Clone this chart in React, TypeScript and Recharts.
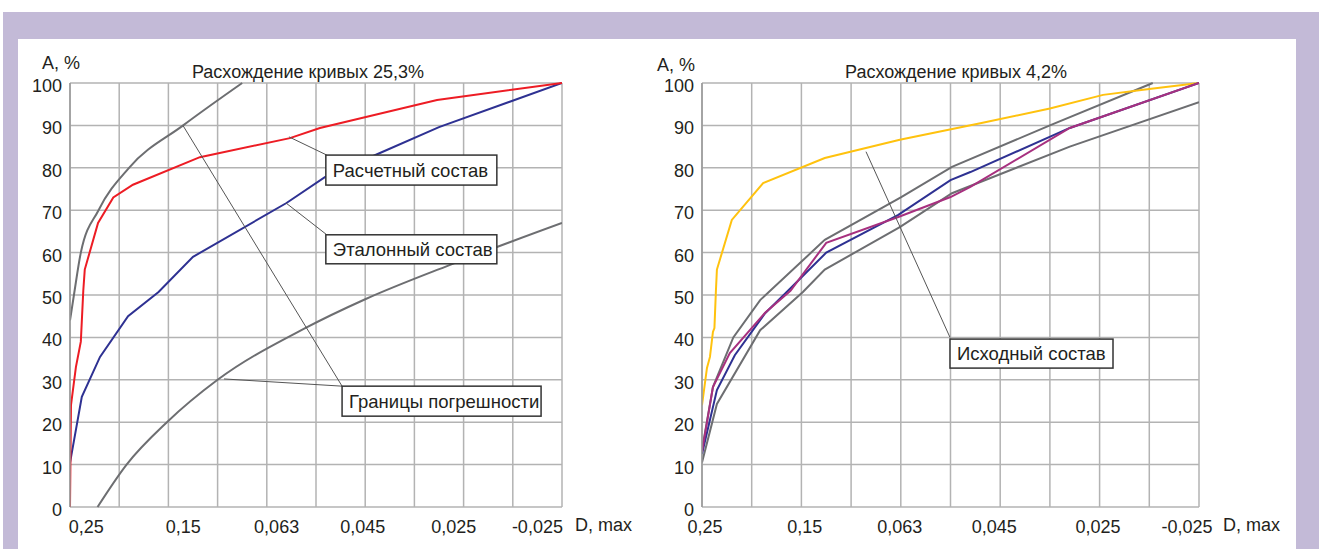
import React from "react";
import {
  LineChart,
  Line,
  XAxis,
  YAxis,
  CartesianGrid,
  ReferenceLine,
  ReferenceDot,
  Label,
} from "recharts";

// x values are positions on the D grid (0 = 0,25 edge, 10 = right edge)
const yTicks = [0, 10, 20, 30, 40, 50, 60, 70, 80, 90, 100];
const gridTicks = [0, 1, 2, 3, 4, 5, 6, 7, 8, 9, 10];
const dLabels = ["0,25", "0,15", "0,063", "0,045", "0,025", "-0,025"];
const leftLabelPos = [0.33, 2.3, 4.2, 5.95, 7.8, 9.5];
const rightLabelPos = [0.06, 2.07, 3.98, 5.88, 7.97, 9.76];

// left chart: Расхождение кривых 25,3%
const calcX = [0, 0.02, 0.12, 0.22, 0.27, 0.3, 0.57, 0.88, 1.28, 2.64, 4.47, 5.08, 7.46, 10];
const calcY = [0, 24, 33, 39, 51, 56, 67, 73, 76, 82.5, 87, 89.4, 96, 100];
const refX = [0, 0.24, 0.61, 1.18, 1.8, 2.5, 4.4, 5.18, 6.3, 7.5, 10];
const refY = [10.4, 26, 35.4, 45, 50.7, 59, 71.7, 77.8, 83.5, 89.6, 100];
const upperX = [0, 0.08, 0.22, 0.58, 1.2, 2.3, 3.5];
const upperY = [44, 50, 60, 70, 80, 90, 100];
const lowerX = [0.56, 1.15, 1.97, 3.0, 4.75, 6.0, 7.7, 10];
const lowerY = [0, 10, 20, 30, 42, 49, 57, 67];

// right chart: Расхождение кривых 4,2%
const srcX = [0, 0.1, 0.16, 0.22, 0.25, 0.28, 0.3, 0.6, 1.23, 2.47, 3.98, 5.6, 7.0, 8.07, 9.0, 10];
const srcY = [24, 32.8, 35.4, 41.3, 42.2, 51, 56, 67.7, 76.4, 82.3, 86.6, 90.5, 94, 97.2, 98.6, 100];
const blueX = [0, 0.3, 0.66, 1.27, 1.73, 2.5, 3.95, 5.0, 5.4, 7.4, 10];
const blueY = [12.5, 27.6, 35.8, 45.7, 51, 60, 68.9, 77.1, 79, 89.4, 100];
const magX = [0, 0.22, 0.56, 1.27, 1.78, 2.5, 3.95, 5.0, 5.4, 7.4, 10];
const magY = [13, 28.3, 36.3, 45.8, 51, 62.3, 68.4, 73.1, 75.5, 89.4, 100];
const up2X = [0, 0.22, 0.63, 1.17, 2.47, 4.0, 5.03, 7.0, 9.07];
const up2Y = [13.5, 28.3, 40, 48.8, 63, 73, 80.2, 90, 100];
const low2X = [0, 0.3, 1.17, 2.03, 2.47, 3.98, 5.03, 7.4, 10];
const low2Y = [10.5, 24.3, 41.7, 50.7, 56, 66, 74, 85, 95.5];

const ink = "#231f20";
const font = "'Liberation Sans', Arial, sans-serif";
const gridColor = "#b3b3b3";
const boundColor = "#6d6e71";
const leaderColor = "#555";

const pts = (xs: number[], ys: number[]) => xs.map((x, i) => ({ x, y: ys[i] }));

const EmptyTick = () => <g />;

const YTick = (props: any) => (
  <text x={props.x} y={props.y} dy={9} textAnchor="end" fontSize={18} fill={ink} fontFamily={font}>
    {props.payload.value}
  </text>
);

const makeXTick = (pos: number[]) => (props: any) => (
  <text x={props.x} y={props.y} dy={24} textAnchor="middle" fontSize={18} fill={ink} fontFamily={font}>
    {dLabels[pos.indexOf(props.payload.value)]}
  </text>
);

const makeBox = (text: string, w: number, h: number) => (props: any) => (
  <g>
    <rect x={props.cx} y={props.cy} width={w} height={h} fill="#fff" stroke="#333" strokeWidth={1.5} />
    <text x={props.cx + 7} y={props.cy + h / 2 + 6.5} fontSize={18.5} fill={ink} fontFamily={font}>
      {text}
    </text>
  </g>
);

type Series = { data: { x: number; y: number }[]; color: string; kind: "linear" | "monotone" };
type Note = { text: string; at: [number, number]; w: number; h: number; from: [number, number][]; to: [number, number] };

const Panel = ({
  width,
  left,
  right,
  labelPos,
  unitGap,
  series,
  notes,
}: {
  width: number;
  left: number;
  right: number;
  labelPos: number[];
  unitGap: number;
  series: Series[];
  notes: Note[];
}) => (
  <LineChart width={width} height={549} margin={{ top: 83, right, bottom: 12, left }}>
    <CartesianGrid xAxisId="g" stroke={gridColor} strokeWidth={1.5} horizontal vertical />
    <XAxis
      xAxisId="g"
      type="number"
      dataKey="x"
      domain={[0, 10]}
      ticks={gridTicks}
      allowDataOverflow
      interval={0}
      tick={EmptyTick}
      tickLine={false}
      height={0}
      stroke="#999"
      strokeWidth={1.5}
    />
    <XAxis
      xAxisId="lbl"
      type="number"
      dataKey="x"
      domain={[0, 10]}
      ticks={labelPos}
      allowDataOverflow
      interval={0}
      axisLine={false}
      tickLine={false}
      tickSize={0}
      height={30}
      tick={makeXTick(labelPos)}
    >
      <Label value="D, max" position="right" offset={unitGap} dy={3} fontSize={18} fill={ink} fontFamily={font} />
    </XAxis>
    <YAxis
      type="number"
      domain={[0, 100]}
      ticks={yTicks}
      interval={0}
      width={40}
      tickLine={false}
      stroke="#999"
      strokeWidth={1.5}
      tick={<YTick />}
    />
    {series.map((s, i) => (
      <Line
        key={i}
        xAxisId={i === 0 ? "lbl" : "g"}
        data={s.data}
        dataKey="y"
        type={s.kind}
        stroke={s.color}
        strokeWidth={2}
        dot={false}
        activeDot={false}
        isAnimationActive={false}
      />
    ))}
    {notes.map((n) =>
      n.from.map((f, j) => (
        <ReferenceLine
          key={n.text + j}
          xAxisId="g"
          segment={[{ x: f[0], y: f[1] }, { x: n.to[0], y: n.to[1] }]}
          stroke={leaderColor}
          strokeWidth={1}
        />
      ))
    )}
    {notes.map((n) => (
      <ReferenceDot
        key={n.text}
        xAxisId="g"
        x={n.at[0]}
        y={n.at[1]}
        r={0}
        shape={makeBox(n.text, n.w, n.h)}
      />
    ))}
  </LineChart>
);

const txt: React.CSSProperties = {
  position: "absolute",
  fontFamily: font,
  fontSize: 18,
  color: ink,
  height: 20,
  lineHeight: "20px",
  whiteSpace: "nowrap",
};

export default function App() {
  const leftSeries: Series[] = [
    { data: pts(upperX, upperY), color: boundColor, kind: "monotone" },
    { data: pts(lowerX, lowerY), color: boundColor, kind: "monotone" },
    { data: pts(refX, refY), color: "#2e3192", kind: "linear" },
    { data: pts(calcX, calcY), color: "#ed1c24", kind: "linear" },
  ];
  const rightSeries: Series[] = [
    { data: pts(up2X, up2Y), color: boundColor, kind: "linear" },
    { data: pts(low2X, low2Y), color: boundColor, kind: "linear" },
    { data: pts(srcX, srcY), color: "#ffc20e", kind: "linear" },
    { data: pts(blueX, blueY), color: "#2e3192", kind: "linear" },
    { data: pts(magX, magY), color: "#a7307f", kind: "linear" },
  ];
  const leftNotes: Note[] = [
    { text: "Расчетный состав", at: [5.2, 83], w: 171, h: 30, from: [[4.45, 87.3]], to: [5.22, 83] },
    { text: "Эталонный состав", at: [5.2, 64.2], w: 171, h: 29, from: [[4.39, 71.7]], to: [5.22, 64.2] },
    {
      text: "Границы погрешности",
      at: [5.53, 28.5],
      w: 199,
      h: 30,
      from: [[2.3, 89.9], [3.13, 30.2]],
      to: [5.53, 28.5],
    },
  ];
  const rightNotes: Note[] = [
    { text: "Исходный состав", at: [4.99, 39.6], w: 163, h: 29, from: [[3.3, 83.8]], to: [4.99, 40] },
  ];

  return (
    <div style={{ position: "fixed", left: 0, top: 0, width: 1319, height: 549, background: "#fff", overflow: "hidden" }}>
      <div style={{ position: "absolute", left: 3, top: 12, width: 1316, height: 537, background: "#c3bad7" }} />
      <div style={{ position: "absolute", left: 18, top: 39, width: 1278, height: 510, background: "#fff" }} />
      <div style={{ position: "absolute", left: 0, top: 0 }}>
        <Panel width={640} left={30} right={78} labelPos={leftLabelPos} unitGap={13} series={leftSeries} notes={leftNotes} />
      </div>
      <div style={{ position: "absolute", left: 640, top: 0 }}>
        <Panel width={679} left={22} right={120} labelPos={rightLabelPos} unitGap={24} series={rightSeries} notes={rightNotes} />
      </div>
      <div style={{ ...txt, left: 42, top: 53 }}>A, %</div>
      <div style={{ ...txt, left: 108, top: 62, width: 400, textAlign: "center" }}>Расхождение кривых 25,3%</div>
      <div style={{ ...txt, left: 657, top: 55 }}>A, %</div>
      <div style={{ ...txt, left: 756, top: 62, width: 400, textAlign: "center" }}>Расхождение кривых 4,2%</div>
    </div>
  );
}
